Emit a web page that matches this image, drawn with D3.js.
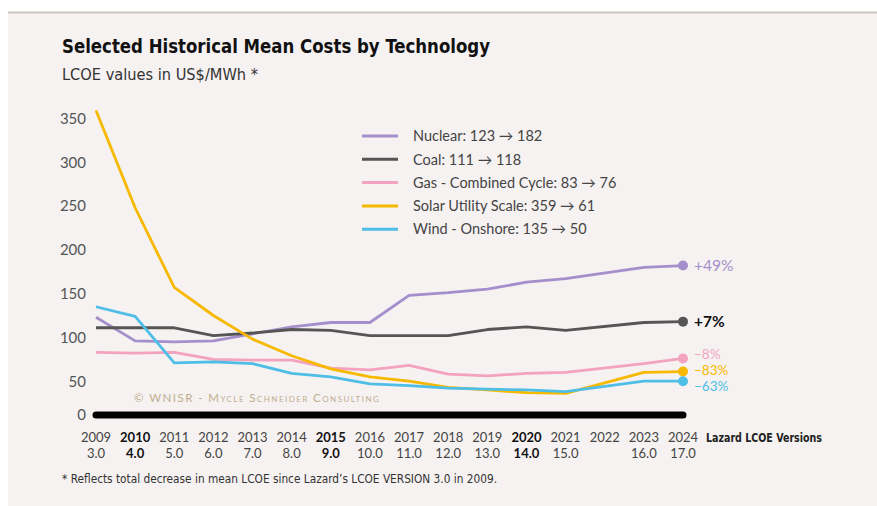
<!DOCTYPE html>
<html>
<head>
<meta charset="utf-8">
<script src="https://cdn.jsdelivr.net/npm/d3@7"></script>
<style>
  body { margin: 0; background: #fff; }
  svg { display: block; }
</style>
</head>
<body>
<div id="chart"></div>
<script>
// Lazard LCOE versions (no version released in 2022)
const axisYears = [2009, 2010, 2011, 2012, 2013, 2014, 2015, 2016, 2017, 2018, 2019, 2020, 2021, 2022, 2023, 2024];
const versionLabels = ['3.0', '4.0', '5.0', '6.0', '7.0', '8.0', '9.0', '10.0', '11.0', '12.0', '13.0', '14.0', '15.0', '', '16.0', '17.0'];
const boldYears = [2010, 2015, 2020];
const dataYears = [2009, 2010, 2011, 2012, 2013, 2014, 2015, 2016, 2017, 2018, 2019, 2020, 2021, 2023, 2024];

const nuclear = [123, 96, 95, 96, 104, 112, 117, 117, 148, 151, 155, 163, 167, 180, 182];
const coal = [111, 111, 111, 102, 105, 109, 108, 102, 102, 102, 109, 112, 108, 117, 118];
const gas = [83, 82, 83, 75, 74, 74, 65, 63, 68, 58, 56, 59, 60, 70, 76];
const solar = [359, 248, 157, 125, 98, 79, 64, 55, 50, 43, 40, 37, 36, 60, 61];
const wind = [135, 124, 71, 72, 70, 59, 55, 47, 45, 42, 41, 40, 38, 50, 50];

const seriesNames = ['Nuclear', 'Coal', 'Gas - Combined Cycle', 'Solar Utility Scale', 'Wind - Onshore'];
const seriesValues = [nuclear, coal, gas, solar, wind];
const seriesColors = ['#a48fcc', '#555555', '#f3a3bf', '#f6b900', '#4fbee7'];
const changeLabels = ['+49%', '+7%', '\u22128%', '\u221283%', '\u221263%'];
const yTicks = [0, 50, 100, 150, 200, 250, 300, 350];

const width = 877;
const height = 506;
const font = 'Lato, "Open Sans", sans-serif';
const narrow = '"Liberation Sans Narrow", "DejaVu Sans Condensed", Lato, sans-serif';

const svg = d3.select('#chart').append('svg')
    .attr('width', width)
    .attr('height', height);

// background panel
svg.append('rect').attr('x', 8).attr('y', 12).attr('width', width - 8).attr('height', height - 12)
    .attr('fill', '#f6f2f1');
svg.append('line').attr('x1', 8).attr('x2', width).attr('y1', 12.5).attr('y2', 12.5)
    .attr('stroke', '#cdc6bf').attr('stroke-width', 2);

// titles
svg.append('text').attr('x', 62).attr('y', 53)
    .attr('font-family', narrow).attr('font-weight', 'bold').attr('font-size', 20)
    .attr('fill', '#111')
    .attr('textLength', 428).attr('lengthAdjust', 'spacingAndGlyphs')
    .text('Selected Historical Mean Costs by Technology');
svg.append('text').attr('x', 62).attr('y', 80)
    .attr('font-family', narrow).attr('font-size', 15).attr('fill', '#333')
    .attr('textLength', 196).attr('lengthAdjust', 'spacingAndGlyphs')
    .text('LCOE values in US$/MWh *');

const x = d3.scaleLinear().domain([2009, 2024]).range([96, 683]);
const y = d3.scaleLinear().domain([0, 350]).range([425, 118.4]);
const baseY = y(0) - 10;

// y axis labels
const yAxis = svg.append('g')
    .attr('transform', 'translate(86,0)')
    .call(d3.axisLeft(y).tickValues(yTicks).tickSize(0).tickPadding(0));
yAxis.select('.domain').remove();
yAxis.selectAll('text')
    .attr('font-family', font).attr('font-size', 15).attr('fill', '#555');
yAxis.selectAll('.tick').filter(d => d === 0)
    .attr('transform', `translate(0,${baseY})`);

// watermark
svg.append('text').attr('x', 134).attr('y', 402)
    .attr('font-family', font).attr('font-size', 11.5).attr('fill', '#bfae8f')
    .style('font-variant', 'small-caps').attr('letter-spacing', 1.2)
    .attr('textLength', 246).attr('lengthAdjust', 'spacing')
    .text('\u00a9 WNISR - Mycle Schneider Consulting');

// baseline bar
svg.append('line')
    .attr('x1', x(2009)).attr('x2', x(2024))
    .attr('y1', baseY).attr('y2', baseY)
    .attr('stroke', '#000').attr('stroke-width', 7).attr('stroke-linecap', 'round');

// lines
const line = d3.line()
    .x((d, i) => x(dataYears[i]))
    .y(d => y(d));

seriesValues.forEach((vals, k) => {
    svg.append('path')
        .datum(vals)
        .attr('d', line)
        .attr('fill', 'none')
        .attr('stroke', seriesColors[k])
        .attr('stroke-width', 2.8)
        .attr('stroke-linejoin', 'round');
});

// end dots and change labels (low three nudged apart so they do not collide)
const labelOffsets = [0, 0, -4, -1.5, 5];
seriesValues.forEach((vals, k) => {
    const last = vals[vals.length - 1];
    svg.append('circle')
        .attr('cx', x(2024)).attr('cy', y(last)).attr('r', 5)
        .attr('fill', seriesColors[k]);
    svg.append('text')
        .attr('x', x(2024) + 11).attr('y', y(last) + labelOffsets[k])
        .attr('dy', '0.36em')
        .attr('font-family', font).attr('font-size', k > 1 ? 13.5 : 15.5)
        .attr('font-weight', k === 1 ? 'bold' : 'normal')
        .attr('fill', k === 1 ? '#111' : seriesColors[k])
        .text(changeLabels[k]);
});

// legend
const legend = svg.append('g');
seriesNames.forEach((name, k) => {
    const ly = 136 + k * 23.3;
    const vals = seriesValues[k];
    legend.append('line')
        .attr('x1', 362).attr('x2', 398).attr('y1', ly).attr('y2', ly)
        .attr('stroke', seriesColors[k]).attr('stroke-width', 3);
    legend.append('text')
        .attr('x', 413).attr('y', ly).attr('dy', '0.36em')
        .attr('font-family', font).attr('font-size', 14.5).attr('fill', '#444')
        .text(`${name}: ${vals[0]} \u2192 ${vals[vals.length - 1]}`);
});

// x axis: years and versions
const xg = svg.append('g');
xg.selectAll('text.year')
    .data(axisYears)
    .join('text')
    .attr('class', 'year')
    .attr('x', d => x(d)).attr('y', 442)
    .attr('text-anchor', 'middle')
    .attr('font-family', font).attr('font-size', 13)
    .attr('font-weight', d => boldYears.includes(d) ? 'bold' : 'normal')
    .attr('fill', d => boldYears.includes(d) ? '#111' : '#444')
    .text(d => d);
xg.selectAll('text.version')
    .data(axisYears)
    .join('text')
    .attr('class', 'version')
    .attr('x', d => x(d)).attr('y', 458)
    .attr('text-anchor', 'middle')
    .attr('font-family', font).attr('font-size', 13)
    .attr('font-weight', d => boldYears.includes(d) ? 'bold' : 'normal')
    .attr('fill', d => boldYears.includes(d) ? '#111' : '#444')
    .text((d, i) => versionLabels[i]);
xg.append('text')
    .attr('x', 706).attr('y', 442)
    .attr('font-family', narrow).attr('font-size', 13).attr('font-weight', 'bold')
    .attr('fill', '#222')
    .attr('textLength', 116).attr('lengthAdjust', 'spacingAndGlyphs')
    .text('Lazard LCOE Versions');

// footnote
svg.append('text').attr('x', 62).attr('y', 483)
    .attr('font-family', narrow).attr('font-size', 12.5).attr('fill', '#333')
    .attr('textLength', 435).attr('lengthAdjust', 'spacingAndGlyphs')
    .text('* Reflects total decrease in mean LCOE since Lazard\u2019s  LCOE VERSION 3.0 in 2009.');
</script>
</body>
</html>
